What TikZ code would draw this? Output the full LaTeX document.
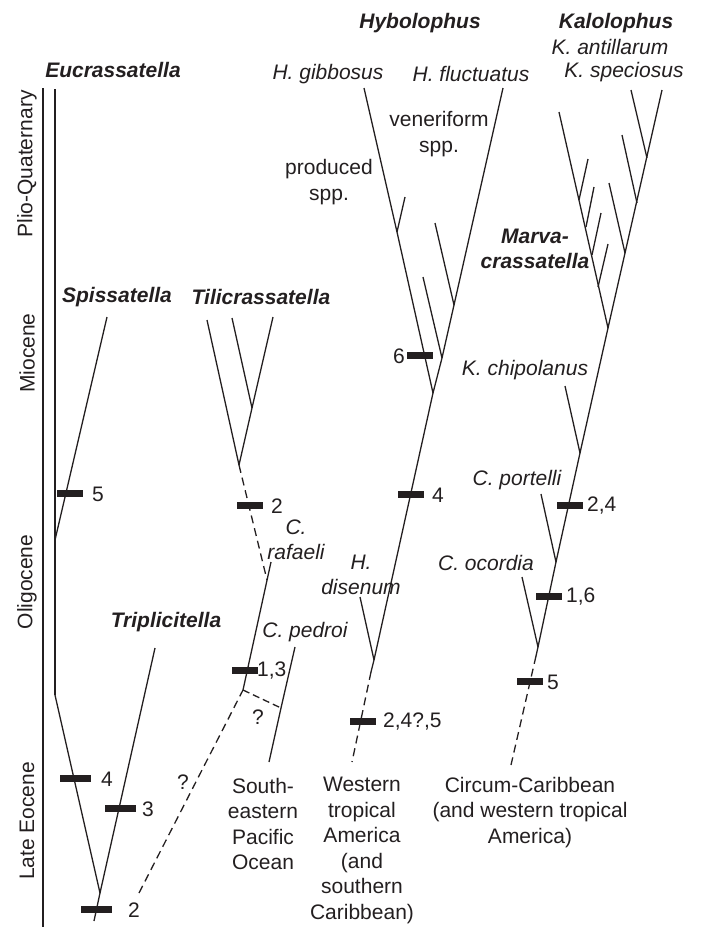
\documentclass[tikz,border=0pt]{standalone}
\usepackage{fontspec}
\setmainfont{Liberation Sans}
\definecolor{ink}{HTML}{231F20}
\begin{document}
\begin{tikzpicture}[x=1pt,y=-1pt,
  br/.style={line width=1.3pt, draw=ink},
  thick br/.style={line width=2pt, draw=ink},
  dsh/.style={br, dash pattern=on 8pt off 5pt},
  mbar/.style={fill=ink, inner sep=0pt, minimum width=26pt, minimum height=7pt},
  wbar/.style={mbar, minimum width=31pt},
  txt/.style={font=\fontsize{21}{25.5}\selectfont, text=ink, inner sep=0pt, align=center},
  itx/.style={txt, font=\fontsize{21}{25.5}\selectfont\itshape},
  btx/.style={txt, font=\fontsize{21}{25.5}\selectfont\bfseries\itshape},
  num/.style={txt, anchor=west},
]
\useasboundingbox (0,0) rectangle (702,927);

% ---------- time axis ----------
\coordinate (axTop) at (43,88);
\coordinate (axBot) at (43,927);
\draw[line width=2.4pt, draw=ink] (axTop) -- (axBot);
\node[txt, rotate=90] (tPQ) at (27,164) {Plio-Quaternary};
\node[txt, rotate=90] (tMi) at (27,353) {Miocene};
\node[txt, rotate=90] (tOl) at (27,582) {Oligocene};
\node[txt, rotate=90] (tLE) at (27,821) {Late Eocene};

% ---------- Eucrassatella / Spissatella / Triplicitella ----------
\coordinate (eTop) at (55,89);
\coordinate (eBend) at (55,695);
\coordinate (eRoot) at (100,893);
\coordinate (eBase) at (94,921);
\coordinate (spisBase) at (55,540);
\coordinate (spisTip) at (107,317);
\coordinate (tripTip) at (155,648);
\draw[thick br] (eTop) -- (eBend);
\draw[br] (eBend) -- (eRoot);
\draw[br] (tripTip) -- (eRoot) -- (eBase);
\draw[br] (spisBase) -- (spisTip);

\node[btx] (lEuc) at (113,70) {Eucrassatella};
\node[btx] (lSpis) at (117,297) {Spissatella};
\node[btx] (lTrip) at (166,622) {Triplicitella};

\node[mbar] (b5a) at (70,493) {};
\node[num] (n5a) at (92,494) {5};
\node[wbar] (b4a) at (75,778) {};
\node[num] (n4a) at (101,779) {4};
\node[wbar] (b3a) at (120.5,808) {};
\node[num] (n3a) at (142,809) {3};
\node[wbar] (b2a) at (96,909) {};
\node[num] (n2a) at (128,910) {2};

% ---------- dashed link to south-eastern Pacific group ----------
\coordinate (qStart) at (139,893);
\coordinate (pedRoot) at (243,690);
\draw[dsh] (qStart) -- (pedRoot);
\node[txt] (q1) at (183,782) {?};

% ---------- Tilicrassatella ----------
\coordinate (tL) at (207,320);
\coordinate (tM) at (232,318);
\coordinate (tR) at (273,317);
\coordinate (tJ2) at (252,408);
\coordinate (tRoot) at (239,465);
\draw[br] (tL) -- (tRoot);
\draw[br] (tR) -- (tJ2) -- (tRoot);
\draw[br] (tM) -- (tJ2);
\node[btx] (lTili) at (261,297) {Tilicrassatella};

\coordinate (rafJ) at (267,580);
\coordinate (rafTip) at (271,562);
\draw[dsh] (tRoot) -- (rafJ);
\draw[br] (pedRoot) -- (rafTip);
\node[mbar] (b2t) at (250,505) {};
\node[num] (n2t) at (271,506) {2};
\node[itx] (lRaf) at (296,540) {C.\\rafaeli};

\coordinate (pedTip) at (295,647);
\coordinate (pedBot) at (269,762);
\coordinate (pedMid) at (281,708);
\draw[br] (pedTip) -- (pedMid) -- (pedBot);
\draw[dsh, dash pattern=on 7pt off 4pt] (pedRoot) -- (pedMid);
\node[txt] (q2) at (258,717) {?};
\node[itx] (lPed) at (305,632) {C. pedroi};
\node[mbar] (b13) at (244.5,670) {};
\node[num] (n13) at (257,671) {1,3};

\node[txt, anchor=north] (gSEP) at (263,778) {South-\\eastern\\Pacific\\Ocean};

% ---------- Hybolophus ----------
\coordinate (hGt) at (364,88);
\coordinate (hFt) at (503,88);
\coordinate (hJ) at (433,393);
\coordinate (hJ2) at (374,660);
\coordinate (hDash) at (371,672);
\coordinate (hEnd) at (352,762);
\coordinate (hPt) at (405,197);
\coordinate (hPb) at (397,232);
\coordinate (hI1t) at (435,223);
\coordinate (hI1b) at (454,305);
\coordinate (hI2t) at (423,277);
\coordinate (hI2b) at (442,358);
\coordinate (hDis) at (360,597);
\draw[br] (hGt) -- (hPb) -- (hJ);
\draw[br] (hFt) -- (hI1b) -- (hI2b) -- (hJ) -- (hJ2) -- (hDash);
\draw[dsh] (hDash) -- (hEnd);
\draw[br] (hPt) -- (hPb);
\draw[br] (hI1t) -- (hI1b);
\draw[br] (hI2t) -- (hI2b);
\draw[br] (hDis) -- (hJ2);

\node[btx] (lHyb) at (420,23) {Hybolophus};
\node[itx] (lGib) at (328,74) {H. gibbosus};
\node[itx] (lFluc) at (471,74) {H. fluctuatus};
\node[txt] (lVen) at (439,134) {veneriform\\spp.};
\node[txt] (lProd) at (329,182) {produced\\spp.};
\node[itx] (lDis) at (361,575) {H.\\disenum};

\node[mbar] (b6h) at (420,355) {};
\node[txt, anchor=east] (n6h) at (405,356) {6};
\node[mbar] (b4h) at (411,494) {};
\node[num] (n4h) at (432,495) {4};
\node[mbar] (b245h) at (362.5,721) {};
\node[num] (n245h) at (383,722) {2,4?,5};

\node[txt, anchor=north] (gWTA) at (362,777) {Western\\tropical\\America\\(and\\southern\\Caribbean)};

% ---------- Kalolophus ----------
\coordinate (kR) at (662,90);
\coordinate (kL) at (559,112);
\coordinate (kJ) at (608,328);
\coordinate (kChJ) at (580,453);
\coordinate (kPJ) at (556,562);
\coordinate (kOJ) at (538,647);
\coordinate (kDash) at (536,656);
\coordinate (kEnd) at (511,765);
\draw[br] (kR) -- (kJ) -- (kChJ) -- (kPJ) -- (kOJ) -- (kDash);
\draw[br] (kL) -- (kJ);
\draw[dsh] (kDash) -- (kEnd);
% right-side sub-branches
\coordinate (kr1t) at (631,90);  \coordinate (kr1b) at (647,158);
\coordinate (kr2t) at (622,135); \coordinate (kr2b) at (637,203);
\coordinate (kr3t) at (609,183); \coordinate (kr3b) at (625,253);
\draw[br] (kr1t) -- (kr1b);
\draw[br] (kr2t) -- (kr2b);
\draw[br] (kr3t) -- (kr3b);
% left-side sub-branches
\coordinate (kl1t) at (588,159); \coordinate (kl1b) at (579,200);
\coordinate (kl2t) at (594,187); \coordinate (kl2b) at (586,227);
\coordinate (kl3t) at (601,213); \coordinate (kl3b) at (592,255);
\coordinate (kl4t) at (608,244); \coordinate (kl4b) at (598,287);
\draw[br] (kl1t) -- (kl1b);
\draw[br] (kl2t) -- (kl2b);
\draw[br] (kl3t) -- (kl3b);
\draw[br] (kl4t) -- (kl4b);
% stem side branches
\coordinate (kChT) at (565,386);
\coordinate (kPT) at (541,494);
\coordinate (kOT) at (522,577);
\draw[br] (kChT) -- (kChJ);
\draw[br] (kPT) -- (kPJ);
\draw[br] (kOT) -- (kOJ);

\node[btx] (lKal) at (616,23) {Kalolophus};
\node[itx] (lAnt) at (610,47) {K. antillarum};
\node[itx] (lSpec) at (624,72) {K. speciosus};
\node[btx] (lMarva) at (535,249) {Marva-\\crassatella};
\node[itx] (lChip) at (525,370) {K. chipolanus};
\node[itx] (lPort) at (517,480) {C. portelli};
\node[itx] (lOco) at (486,563) {C. ocordia};

\node[mbar] (b24k) at (570,505) {};
\node[num] (n24k) at (587,506) {2,4};
\node[mbar] (b16k) at (549,596) {};
\node[num] (n16k) at (566,597) {1,6};
\node[mbar] (b5k) at (529.5,681) {};
\node[num] (n5k) at (547,682) {5};

\node[txt, anchor=north] (gCC) at (530,777) {Circum-Caribbean\\(and western tropical\\America)};
\end{tikzpicture}
\end{document}
